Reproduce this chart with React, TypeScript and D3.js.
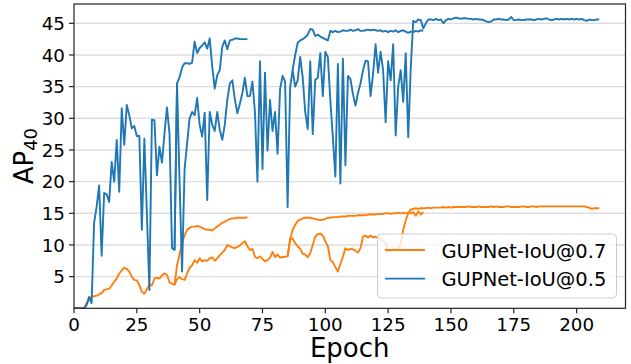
import * as d3 from "d3";

// AP40 per epoch. Run 1 is the long run,
// runs 2 and 3 are the short resumed runs that branch off it.
const run1Start = 0;
const run2Start = 40;
const run3BlueStart = 87;
const run3OrangeStart = 85;

const blueRun1 = [
  0, 0, 0, 0, 0, 0.5, 1.8, 0.8, 13.5, 16,
  19.4, 8.3, 18.2, 18, 16.8, 23.1, 20, 26.6, 18.4, 31.6,
  25.8, 32.1, 30.5, 28.4, 28.8, 27.2, 27.2, 12.4, 26.8, 15,
  2.9, 29.8, 29.7, 21, 25.5, 23, 27.6, 31.7, 27.6, 9.5,
  9.2, 35.5, 20, 5.8, 22, 26, 30, 31, 30.5, 33.2,
  29, 27.1, 30.9, 17.1, 31, 29, 28, 31, 28.2, 26.6,
  29, 32.9, 35.5, 36, 33, 30.8, 32.3, 34, 36.4, 33.5,
  33.5, 35.8, 31, 20, 39, 22, 37.2, 24.9, 32.9, 28,
  31, 24.4, 34.6, 36.7, 35.8, 16, 34.9, 37.6, 35, 36,
  39.7, 36.5, 31, 28.3, 39, 27.5, 36.1, 36.4, 40.3, 33.5,
  40.5, 39.7, 32.9, 27, 20.8, 38.6, 19.7, 39.4, 22.6, 36.7,
  36.2, 33.8, 32, 34, 35.5, 37.6, 39.1, 39, 33.5, 37,
  41.7, 37.2, 40.5, 37.6, 29.4, 39, 36, 41.7, 27.3, 35,
  37.6, 32.6, 40.3, 27, 38, 45.4, 45.2, 45.6, 45.5, 44.2,
  45.0, 45.6, 45.6, 45.5, 45.7, 45.5, 45.6, 45.0, 45.5, 45.7,
  45.6, 45.8, 45.9, 45.8, 45.7, 45.8, 45.8, 45.7, 45.7, 45.6,
  45.7, 45.6, 45.6, 45.5, 45.3, 45.2, 45.3, 45.6, 45.6, 45.7,
  45.6, 45.6, 45.5, 45.6, 46.0, 45.5, 45.5, 45.6, 45.5, 45.5,
  45.6, 45.6, 45.6, 45.5, 45.6, 45.7, 45.6, 45.7, 45.8, 45.6,
  45.5, 45.6, 45.7, 45.6, 45.7, 45.6, 45.7, 45.6, 45.7, 45.6,
  45.7, 45.6, 45.7, 45.5, 45.4, 45.6, 45.5, 45.5, 45.6, 45.6,
];

const blueRun2 = [
  9.2, 35.5, 36.5, 38, 38.7, 38.7, 38.6, 38.8, 42.1, 40.3,
  41.1, 41.5, 42, 41, 42.6, 38.2, 34.7, 36.8, 37.6, 41.3,
  42.3, 40.9, 42.3, 42.4, 42.6, 42.6, 42.5, 42.5, 42.5, 42.5,
];

const blueRun3 = [
  37.6, 40, 41.9,
  42.3, 42.5, 42.8, 43.2, 44.1, 44.0, 43.0, 43.2, 42.9, 42.7,
  42.5, 42.3, 43.8, 43.6, 43.8, 43.6, 43.7, 43.9, 43.8, 43.8,
  44.0, 43.8, 43.9, 44.1, 43.8, 43.8, 43.9, 44.0, 43.9, 44.0,
  43.9, 43.8, 43.9, 43.7, 43.8, 43.6, 43.8, 43.7, 43.9, 43.6,
  43.8, 43.9, 43.7, 43.5, 43.7, 43.6, 43.8, 43.7, 43.9, 43.8,
];

const orangeRun1 = [
  0, 0, 0, 0, 0, 0.8, 1.3, 1.8, 1.9, 2.0,
  2.2, 2.4, 2.9, 3.0, 3.1, 3.6, 4.2, 4.7, 5.5, 6.0,
  6.4, 6.2, 5.8, 5.0, 4.5, 4.4, 3.7, 2.6, 2.3, 3.0,
  3.7, 3.6, 4.7, 4.8, 4.7, 5.2, 5.5, 5.3, 4.1, 3.9,
  3.7, 4.6, 4.9, 4.6, 4.5, 5.5, 6.4, 6.8, 7.6, 7.2,
  7.9, 7.4, 7.6, 7.5, 7.9, 8.05, 7.5, 7.9, 8.4, 8.8,
  9.2, 10.0, 9.8, 9.6, 9.5, 9.7, 9.9, 10.3, 10.6, 9.8,
  9.2, 9.4, 8.15, 7.9, 8.2, 7.8, 7.4, 7.6, 8.0, 8.9,
  8.1, 8.5, 8.0, 8.1, 8.15, 8.2, 10.8, 11.05, 10.3, 9.8,
  9.4, 8.6, 8.5, 8.05, 8.7, 10.0, 11.3, 11.7, 11.8, 11.5,
  10.6, 9.8, 7.6, 7.3, 6.5, 5.8, 7.0, 8.15, 9.5, 9.2,
  9.4, 9.3, 9.1, 8.8, 9.5, 11.3, 11.5, 11.2, 11.5, 11.2,
  11.3, 11.1, 11.0, 10.6, 10.3, 8.9, 9.0, 9.5, 9.2, 9.4,
  10.3, 12.4, 13.9, 15.0, 15.6, 15.7, 15.8, 15.7, 15.8, 15.8,
  15.8, 15.9, 15.8, 15.9, 15.9, 15.9, 15.9, 16.0, 15.9, 16.0,
  15.9, 16.0, 16.0, 16.0, 16.0, 16.0, 16.0, 16.1, 16.0, 16.0,
  16.0, 16.1, 16.0, 16.0, 16.0, 16.0, 16.1, 16.0, 16.1, 16.0,
  16.0, 16.0, 16.1, 16.1, 16.0, 16.0, 16.0, 16.0, 16.1, 16.1,
  16.0, 16.0, 16.1, 16.1, 16.0, 16.1, 16.1, 16.1, 16.1, 16.1,
  16.1, 16.1, 16.1, 16.1, 16.1, 16.1, 16.1, 16.1, 16.1, 16.1,
  16.1, 16.1, 16.1, 16.1, 16.0, 15.9, 15.7, 15.8, 15.8, 15.8,
];

const orangeRun2 = [
  3.7, 6.8, 8.5, 10.3, 11.5, 12.4, 12.7, 12.9, 12.9, 13.0,
  12.9, 12.7, 12.5, 12.4, 12.4, 12.3, 12.6, 12.9, 13.2, 13.5,
  13.7, 13.9, 14.1, 14.2, 14.2, 14.3, 14.3, 14.3, 14.3, 14.4,
];

const orangeRun3 = [
  8.2, 11, 12.4, 13.15, 13.8,
  14.0, 14.2, 14.3, 14.3, 14.3, 14.2, 14.1, 14.0, 13.9, 14.0,
  14.1, 14.3, 14.3, 14.4, 14.4, 14.4, 14.5, 14.5, 14.5, 14.6,
  14.6, 14.6, 14.6, 14.7, 14.7, 14.7, 14.7, 14.8, 14.8, 14.8,
  14.8, 14.9, 14.9, 14.9, 15.0, 15.0, 14.9, 15.0, 15.0, 15.1,
  15.0, 15.1, 15.0, 15.1, 15.0, 15.2, 14.6, 15.3, 14.8, 15.2,
];

const xTicks = [0, 25, 50, 75, 100, 125, 150, 175, 200];
const yTicks = [5, 10, 15, 20, 25, 30, 35, 40, 45];
const legendLabels = ["GUPNet-IoU@0.7", "GUPNet-IoU@0.5"];

const W = 631;
const H = 364;
const PLOT = { left: 74, right: 625.5, top: 4, bottom: 308.3 };
const BLUE = "#1f77b4";
const ORANGE = "#ff7f0e";
const FONT = "'DejaVu Sans', sans-serif";

const x = d3.scaleLinear().domain([0, 219.45]).range([PLOT.left, PLOT.right]);
const y = d3.scaleLinear().domain([0, 48.05]).range([PLOT.bottom, PLOT.top]);

const line = d3
  .line<[number, number]>()
  .x((d) => x(d[0]))
  .y((d) => y(d[1]));

const toPts = (start: number, vals: number[]) =>
  vals.map((v, i) => [start + i, v] as [number, number]);

const series = [
  { color: ORANGE, pts: toPts(run1Start, orangeRun1) },
  { color: ORANGE, pts: toPts(run2Start, orangeRun2) },
  { color: ORANGE, pts: toPts(run3OrangeStart, orangeRun3) },
  { color: BLUE, pts: toPts(run1Start, blueRun1) },
  { color: BLUE, pts: toPts(run2Start, blueRun2) },
  { color: BLUE, pts: toPts(run3BlueStart, blueRun3) },
];

export default function App() {
  const legend = { x: 377.5, y: 234, w: 239, h: 64 };
  return (
    <svg
      width={W}
      height={H}
      viewBox={`0 0 ${W} ${H}`}
      style={{ position: "fixed", left: 0, top: 0, background: "#fff" }}
    >
      <defs>
        <clipPath id="plot-clip">
          <rect
            x={PLOT.left}
            y={PLOT.top}
            width={PLOT.right - PLOT.left}
            height={PLOT.bottom - PLOT.top}
          />
        </clipPath>
      </defs>

      {/* horizontal grid */}
      {yTicks.map((t) => (
        <line
          key={`g${t}`}
          x1={PLOT.left}
          x2={PLOT.right}
          y1={y(t)}
          y2={y(t)}
          stroke="#dddddd"
          strokeWidth={1.4}
        />
      ))}

      <g clipPath="url(#plot-clip)">
        {series.map((s, i) => (
          <path
            key={i}
            d={line(s.pts) ?? ""}
            fill="none"
            stroke={s.color}
            strokeWidth={1.9}
            strokeLinejoin="round"
          />
        ))}
      </g>

      {/* legend */}
      <rect
        x={legend.x}
        y={legend.y}
        width={legend.w}
        height={legend.h}
        rx={4}
        fill="#fff"
        fillOpacity={0.8}
        stroke="#cccccc"
        strokeWidth={1}
      />
      {legendLabels.map((lab, i) => {
        const cy = 250 + i * 28.6;
        return (
          <g key={lab}>
            <line
              x1={385}
              x2={425}
              y1={cy}
              y2={cy}
              stroke={i === 0 ? ORANGE : BLUE}
              strokeWidth={1.9}
            />
            <text
              x={441.5}
              y={cy + 7.5}
              fontFamily={FONT}
              fontSize={19.5}
              fill="#000"
            >
              {lab}
            </text>
          </g>
        );
      })}

      {/* frame */}
      <rect
        x={PLOT.left}
        y={PLOT.top}
        width={PLOT.right - PLOT.left}
        height={PLOT.bottom - PLOT.top}
        fill="none"
        stroke="#222"
        strokeWidth={1.2}
      />

      {/* x axis */}
      {xTicks.map((t) => (
        <g key={`x${t}`}>
          <line
            x1={x(t)}
            x2={x(t)}
            y1={PLOT.bottom}
            y2={PLOT.bottom + 5}
            stroke="#222"
            strokeWidth={1.2}
          />
          <text
            x={x(t)}
            y={331}
            textAnchor="middle"
            fontFamily={FONT}
            fontSize={18.3}
            fill="#000"
          >
            {t}
          </text>
        </g>
      ))}
      <text
        x={(PLOT.left + PLOT.right) / 2}
        y={357}
        textAnchor="middle"
        fontFamily={FONT}
        fontSize={26}
        fill="#000"
      >
        Epoch
      </text>

      {/* y axis */}
      {yTicks.map((t) => (
        <g key={`y${t}`}>
          <line
            x1={PLOT.left - 5}
            x2={PLOT.left}
            y1={y(t)}
            y2={y(t)}
            stroke="#222"
            strokeWidth={1.2}
          />
          <text
            x={65}
            y={y(t)}
            dy="0.36em"
            textAnchor="end"
            fontFamily={FONT}
            fontSize={18.3}
            fill="#000"
          >
            {t}
          </text>
        </g>
      ))}
      <text
        transform={`translate(33,${(PLOT.top + PLOT.bottom) / 2}) rotate(-90)`}
        textAnchor="middle"
        fontFamily={FONT}
        fontSize={26}
        fill="#000"
      >
        AP
        <tspan fontSize={18} dy={4}>
          40
        </tspan>
      </text>
    </svg>
  );
}
